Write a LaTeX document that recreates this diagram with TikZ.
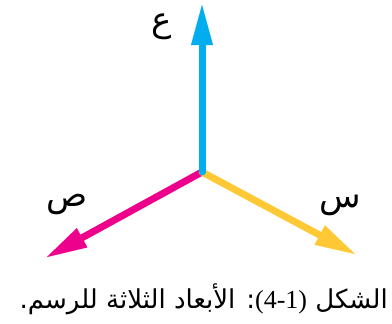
\documentclass[tikz,border=0pt]{standalone}
\usepackage{fontspec}
\usetikzlibrary{arrows.meta}
\TeXXeTstate=1
\newfontfamily\arabicfont[Script=Arabic]{DejaVu Sans}
\newfontfamily\serifnum{Liberation Serif}
\definecolor{axblue}{HTML}{00AEEF}
\definecolor{axpink}{HTML}{EC008C}
\definecolor{axyellow}{HTML}{FFC935}
\begin{document}
\begin{tikzpicture}[x=1pt,y=-1pt,
  axis/.style={line width=7pt, line cap=round, -{Triangle[length=40pt,width=22pt,line width=0.01pt]}},
  lbl/.style={font=\fontsize{34}{40}\selectfont\arabicfont, inner sep=0pt},
  captext/.style={font=\fontsize{26}{30}\selectfont\arabicfont, inner sep=0pt}]
\useasboundingbox[fill=white] (0,0) rectangle (392,324);
\coordinate (O) at (202,172);
\coordinate (Z) at (202,5);
\coordinate (Y) at (47,257);
\coordinate (X) at (355,254);
\draw[axis, axpink] (O) -- (Y);
\draw[axis, axyellow] (O) -- (X);
\draw[axis, axblue] (O) -- (Z);
\node[lbl] (lz) at (162,27) {\beginR ع\endR};
\node[lbl] (ly) at (67,204) {\beginR ص\endR};
\node[lbl] (lx) at (340,205) {\beginR س\endR};
\node[captext, anchor=base east] (caption) at (388,308) {\beginR الشكل \beginL{\serifnum (4-1)}\endL: الأبعاد الثلاثة للرسم.\endR};
\end{tikzpicture}
\end{document}
